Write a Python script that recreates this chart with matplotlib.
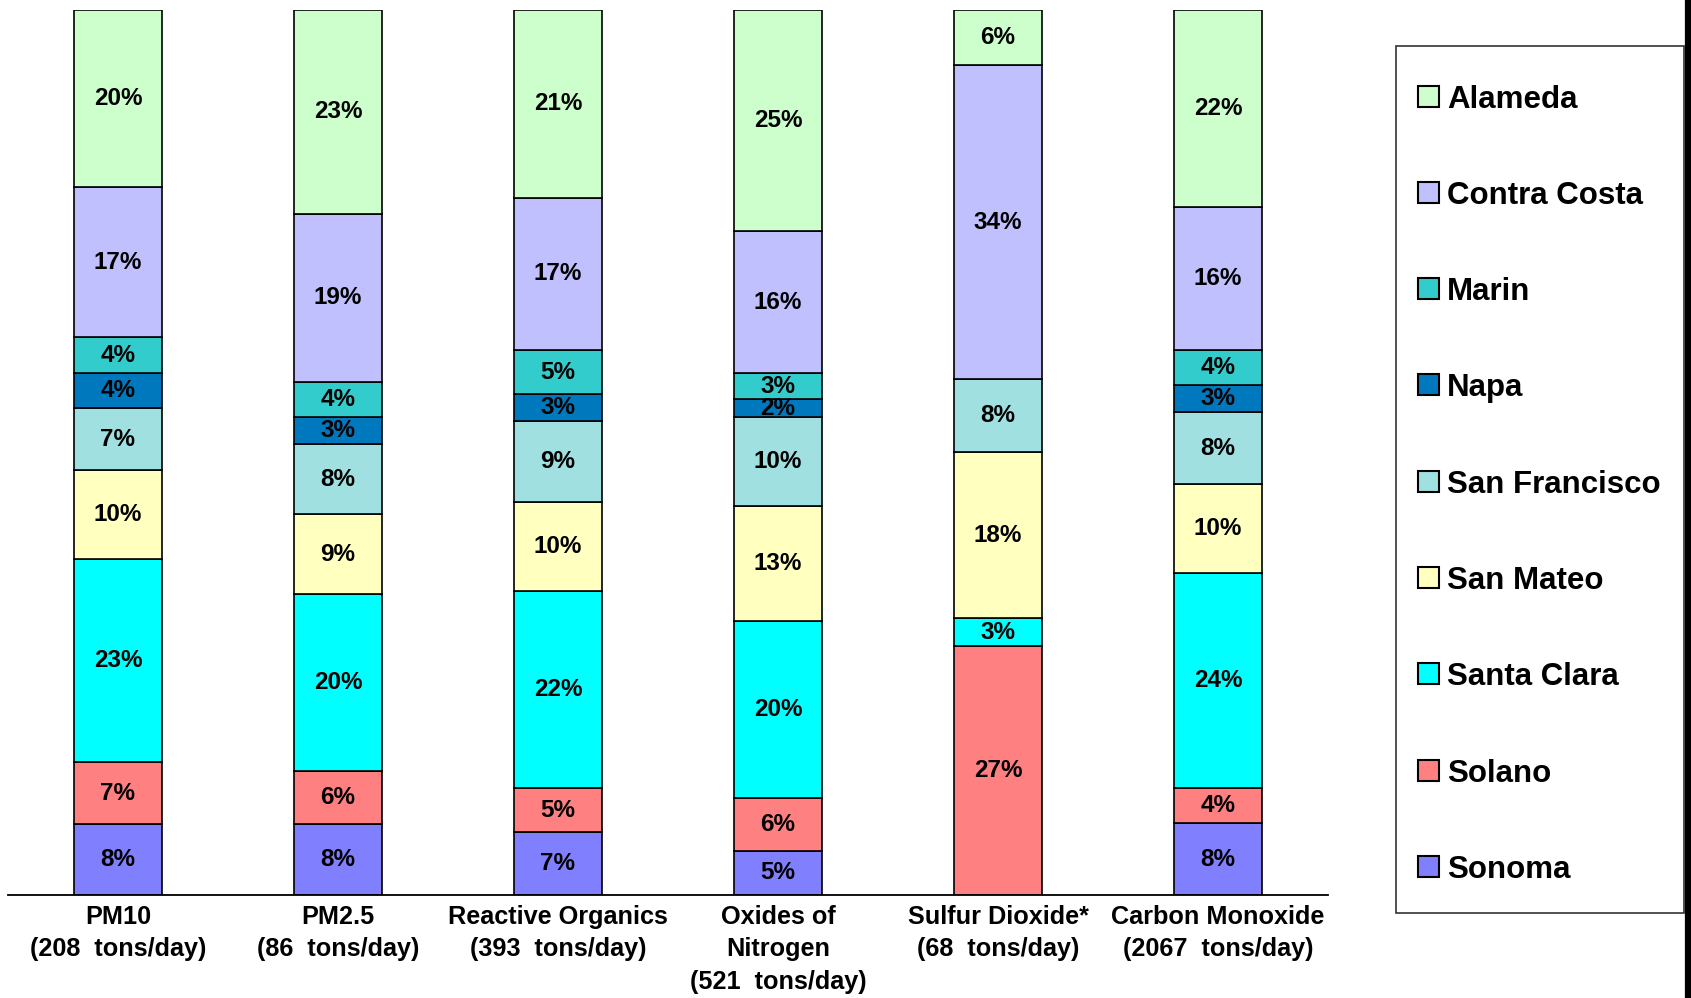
import matplotlib
matplotlib.use("Agg")
import matplotlib.pyplot as plt
import numpy as np
from matplotlib.lines import Line2D
from matplotlib.patches import Rectangle

plt.rcParams['font.family'] = ['Liberation Sans', 'DejaVu Sans']
plt.rcParams['font.weight'] = 'bold'

# pollutant categories (x axis)
categories = [
    "PM10\n(208  tons/day)",
    "PM2.5\n(86  tons/day)",
    "Reactive Organics\n(393  tons/day)",
    "Oxides of\nNitrogen\n(521  tons/day)",
    "Sulfur Dioxide*\n(68  tons/day)",
    "Carbon Monoxide\n(2067  tons/day)",
]

# county shares in percent, stacked bottom -> top
counties = ["Sonoma", "Solano", "Santa Clara", "San Mateo", "San Francisco",
            "Napa", "Marin", "Contra Costa", "Alameda"]
sonoma = [8, 8, 7, 5, 0, 8]
solano = [7, 6, 5, 6, 27, 4]
santa_clara = [23, 20, 22, 20, 3, 24]
san_mateo = [10, 9, 10, 13, 18, 10]
san_francisco = [7, 8, 9, 10, 8, 8]
napa = [4, 3, 3, 2, 0, 3]
marin = [4, 4, 5, 3, 0, 4]
contra_costa = [17, 19, 17, 16, 34, 16]
alameda = [20, 23, 21, 25, 6, 22]

colors = ["#8080FF", "#FF8080", "#00FFFF", "#FFFFC0", "#A0E0E0",
          "#0078BE", "#33CCCC", "#C0C0FF", "#CCFFCC"]

series = np.array([sonoma, solano, santa_clara, san_mateo, san_francisco,
                   napa, marin, contra_costa, alameda], dtype=float)
# each bar fills the full height
shares = series / series.sum(axis=0) * 100

W, H = 1691, 998
fig = plt.figure(figsize=(W / 100, H / 100), dpi=100)
ax = fig.add_axes([8 / W, 1 - 895 / H, 1320 / W, 885 / H])

x = np.arange(len(categories))
bottom = np.zeros(len(categories))
for name, col, vals, pct in zip(counties, colors, shares, series):
    bars = ax.bar(x, vals, width=0.4, bottom=bottom, color=col,
                  edgecolor="black", linewidth=1.2, label=name)
    for b, v, p in zip(bars, vals, pct):
        if p > 0:
            ax.text(b.get_x() + b.get_width() / 2, b.get_y() + v / 2,
                    "%d%%" % p, ha="center", va="center",
                    fontsize=17.5, fontweight="bold")
    bottom += vals

ax.set_xlim(-0.5, 5.5)
ax.set_ylim(0, 100)
ax.set_xticks(x)
ax.set_xticklabels(categories, fontsize=18.2, fontweight="bold", linespacing=1.45)
ax.tick_params(axis="x", length=0, pad=7)
ax.set_yticks([])
for s in ["left", "right", "top"]:
    ax.spines[s].set_visible(False)
ax.spines["bottom"].set_linewidth(1.3)
ax.set_facecolor("none")

# legend box, Alameda on top
fig.add_artist(Rectangle((1396 / W, 1 - 913 / H), 288 / W, 867 / H,
                         transform=fig.transFigure, facecolor="white",
                         edgecolor="#333333", linewidth=1.2))
for i, (name, col) in enumerate(zip(counties[::-1], colors[::-1])):
    yc = 96 + i * 96.3
    fig.add_artist(Rectangle((1418 / W, 1 - (yc + 10.5) / H), 21 / W, 21 / H,
                             transform=fig.transFigure, facecolor=col,
                             edgecolor="black", linewidth=1.5))
    fig.text(1447 / W, 1 - yc / H, name, ha="left", va="center_baseline",
             fontsize=22.5, fontweight="bold")

# dark border on the right edge of the image
fig.add_artist(Line2D([1688 / W, 1688 / W], [0, 1], color="black",
                      linewidth=4.5, transform=fig.transFigure))

fig.savefig("out.png", dpi=100)
